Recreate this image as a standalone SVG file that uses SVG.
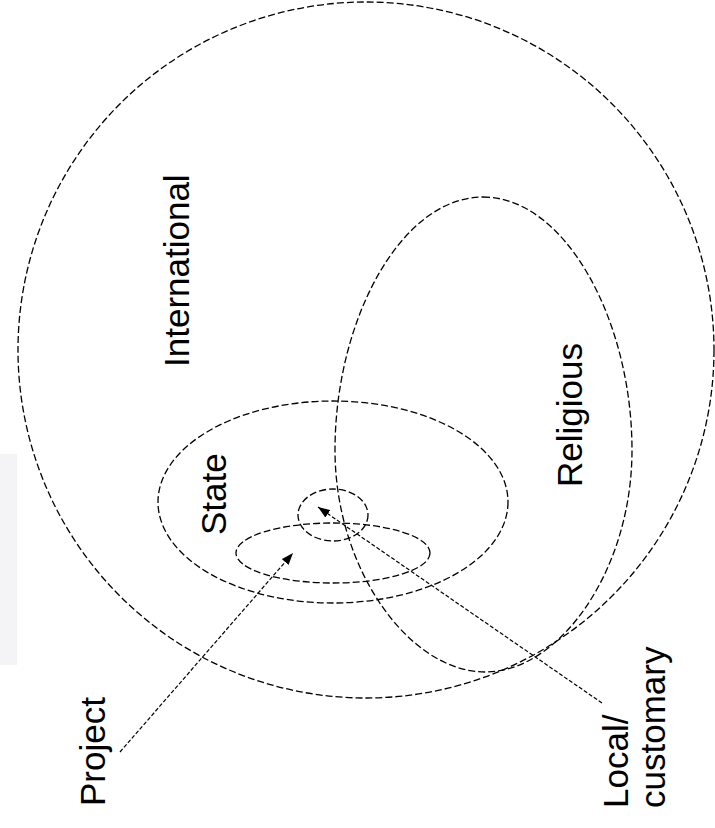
<svg xmlns="http://www.w3.org/2000/svg" width="715" height="828" viewBox="0 0 715 828">
<style>
.ring{fill:none;stroke:#000;stroke-width:1.3;stroke-dasharray:7 3}
.lead{fill:none;stroke:#000;stroke-width:1.2;stroke-dasharray:4 2}
.lbl{font-family:"Liberation Sans",Arial,sans-serif;font-size:35px;fill:#000}
</style>
<defs>
<marker id="ah" viewBox="0 0 12 9" refX="12" refY="4.5" markerWidth="12" markerHeight="9" markerUnits="userSpaceOnUse" orient="auto">
<path d="M0,0 L12,4.5 L0,9 Z" fill="#000"/>
</marker>
</defs>
<rect x="0" y="454" width="17" height="211" fill="#f4f4f6"/>
<g id="international">
<circle class="ring" cx="366" cy="350" r="348"/>
<text class="lbl" transform="translate(189,367) rotate(-90)">International</text>
</g>
<g id="religious">
<path class="ring" d="M483,197 C565,197 632,320 632,450 C632,570 560,672 485,672 C410,672 335,570 335,450 C335,320 401,197 483,197 Z"/>
<text class="lbl" transform="translate(582,487) rotate(-90)">Religious</text>
</g>
<g id="state">
<ellipse class="ring" cx="333" cy="502" rx="175" ry="101"/>
<text class="lbl" transform="translate(226,535) rotate(-90)">State</text>
</g>
<g id="project-area">
<ellipse class="ring" cx="333" cy="553" rx="97" ry="30"/>
</g>
<g id="local-area">
<ellipse class="ring" cx="333" cy="515" rx="35" ry="26"/>
</g>
<g id="project">
<text class="lbl" transform="translate(105,806) rotate(-90)">Project</text>
</g>
<g id="local">
<text class="lbl" transform="translate(628,808) rotate(-90)">Local/</text>
<text class="lbl" transform="translate(665,808) rotate(-90)">customary</text>
</g>
<g id="connectors">
<line class="lead" x1="120" y1="752" x2="293" y2="553" marker-end="url(#ah)"/>
<line class="lead" x1="602" y1="703" x2="318" y2="507" marker-end="url(#ah)"/>
</g>
</svg>
